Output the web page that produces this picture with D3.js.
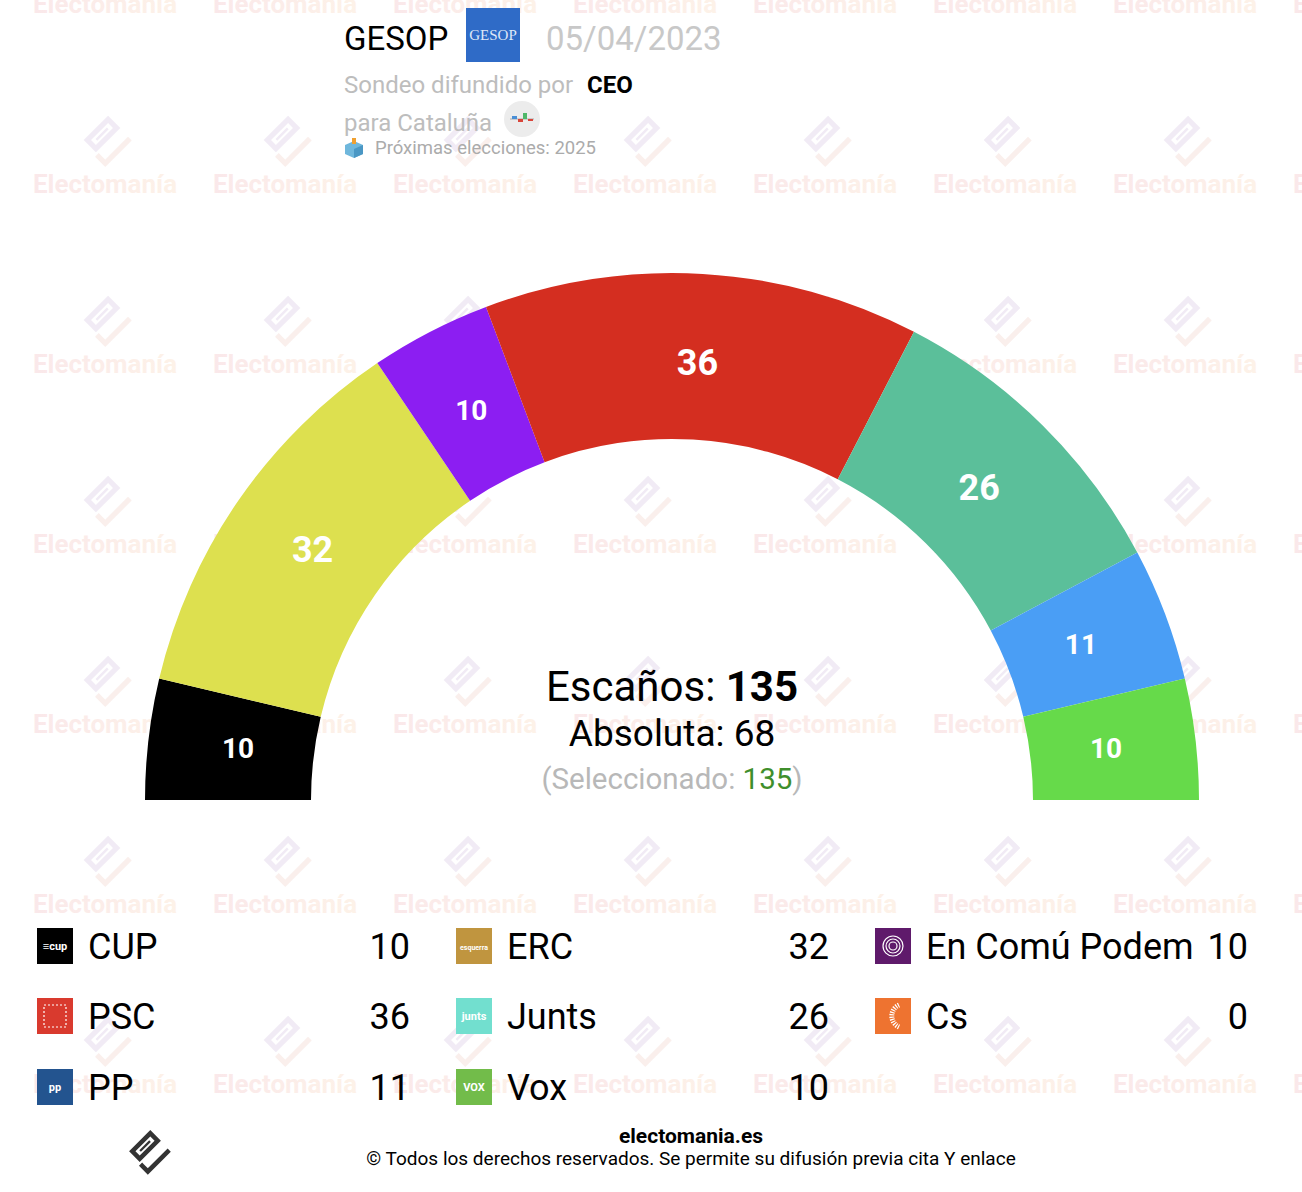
<!DOCTYPE html>
<meta charset="utf-8">
<style>
body { margin: 0; background: #fff; font-family: Roboto, "Noto Sans", sans-serif; }
</style>
<body>
<svg id="chart"></svg>
<script src="https://cdn.jsdelivr.net/npm/d3@7"></script>
<script>

// seats in hemicycle order (left to right)
var parties = ["CUP", "ERC", "En Comú Podem", "PSC", "Junts", "PP", "Vox"];
var seats = [10, 32, 10, 36, 26, 11, 10];
var arcColors = ["#000000", "#dde04f", "#8c1ef2", "#d42e20", "#5bbf9a", "#4a9ef5", "#66da4a"];

// legend, row by row in three columns
var legendParties = ["CUP", "ERC", "En Comú Podem", "PSC", "Junts", "Cs", "PP", "Vox"];
var legendSeats = [10, 32, 10, 36, 26, 0, 11, 10];
var legendIconColors = ["#000000", "#c0953f", "#5f1a6b", "#d93a2e", "#72dfcf", "#ee7330", "#23548f", "#72bc4a"];
var legendIconText = ["≡cup", "esquerra", "", "", "junts", "", "pp", "VOX"];

var totalSeats = 135, majority = 68, selected = 135;

var W = 1302, H = 1192;
var svg = d3.select("#chart").attr("width", W).attr("height", H);

// the electomania mark: tilted frame with a slot, and a tick underneath
function drawLogo(g, frameColor, tickColor) {
  var m = g.append("g").attr("transform", "rotate(-45)");
  m.append("rect").attr("x", -12.75).attr("y", -5.25).attr("width", 25.5).attr("height", 10.5)
    .attr("fill", "none").attr("stroke", frameColor).attr("stroke-width", 4.5);
  m.append("rect").attr("x", -7).attr("y", -1).attr("width", 14).attr("height", 2.2).attr("fill", frameColor);
  m.append("path").attr("d", "M-16,12 L-16,20 L12,20").attr("fill", "none")
    .attr("stroke", tickColor).attr("stroke-width", 4.5).attr("stroke-linecap", "square");
}

// faint watermark grid
var defs = svg.append("defs");
var grad = defs.append("linearGradient").attr("id", "wmgrad");
grad.append("stop").attr("offset", "0%").attr("stop-color", "#fae8ea");
grad.append("stop").attr("offset", "100%").attr("stop-color", "#fdf2e8");

var wm = svg.append("g").attr("id", "watermark");
var wmCols = d3.range(0, 8).map(i => 105 + i * 180);
var wmRows = d3.range(0, 7).map(i => 4 + i * 180);
wmRows.forEach(function(y) {
  wmCols.forEach(function(x) {
    var g = wm.append("g").attr("transform", "translate(" + x + "," + y + ")");
    drawLogo(g.append("g").attr("transform", "translate(-3,-50) scale(1.15)"), "#f1ebf5", "#faefec");
    g.append("text").attr("text-anchor", "middle").attr("y", 9)
      .style("font-size", "26px").style("font-weight", "bold")
      .attr("fill", "url(#wmgrad)")
      .text("Electomanía");
  });
});

// hemicycle
var cx = 672, cy = 800, rOuter = 527, rInner = 361, rLabel = 437;
var pie = d3.pie().sort(null).startAngle(-Math.PI / 2).endAngle(Math.PI / 2);
var arc = d3.arc().innerRadius(rInner).outerRadius(rOuter);
var labelArc = d3.arc().innerRadius(rLabel).outerRadius(rLabel);
var arcs = pie(seats);

var hemi = svg.append("g").attr("transform", "translate(" + cx + "," + cy + ")");
hemi.selectAll("path.seat")
  .data(arcs)
  .enter().append("path")
    .attr("class", "seat")
    .attr("d", arc)
    .attr("fill", (d, i) => arcColors[i]);

hemi.selectAll("text.seatlabel")
  .data(arcs)
  .enter().append("text")
    .attr("class", "seatlabel")
    .attr("transform", d => "translate(" + labelArc.centroid(d) + ")")
    .attr("text-anchor", "middle")
    .attr("dy", "0.3em")
    .attr("fill", "#fff")
    .style("font-weight", "bold")
    .style("font-size", d => d.data >= 20 ? "36px" : "28px")
    .text(d => d.data);

// center text
var t1 = svg.append("text").attr("x", cx).attr("y", 701).attr("text-anchor", "middle")
  .style("font-size", "42px").attr("fill", "#000");
t1.append("tspan").text("Escaños: ");
t1.append("tspan").style("font-weight", "bold").text(totalSeats);
svg.append("text").attr("x", cx).attr("y", 746).attr("text-anchor", "middle")
  .style("font-size", "37px").attr("fill", "#000").text("Absoluta: " + majority);
var t3 = svg.append("text").attr("x", cx).attr("y", 789).attr("text-anchor", "middle")
  .style("font-size", "29.5px").attr("fill", "#b8b8b8");
t3.append("tspan").text("(Seleccionado: ");
t3.append("tspan").attr("fill", "#3f8f2c").text(selected);
t3.append("tspan").text(")");

// header
svg.append("text").attr("x", 344).attr("y", 50).style("font-size", "33px").attr("fill", "#000").text("GESOP");
svg.append("rect").attr("x", 466).attr("y", 8).attr("width", 54).attr("height", 54).attr("fill", "#2f6bc7");
svg.append("text").attr("x", 493).attr("y", 40).attr("text-anchor", "middle")
  .style("font-family", "'Liberation Serif', serif").style("font-size", "15px").attr("fill", "#dfe8f8").text("GESOP");
svg.append("text").attr("x", 546).attr("y", 50).style("font-size", "33px").attr("fill", "#c8c8c8").text("05/04/2023");
var sub = svg.append("text").attr("x", 344).attr("y", 93).style("font-size", "24px").attr("fill", "#bdbdbd");
sub.append("tspan").text("Sondeo difundido por ");
sub.append("tspan").attr("dx", 8).attr("fill", "#000").style("font-weight", "bold").text("CEO");
svg.append("text").attr("x", 344).attr("y", 131).style("font-size", "24px").attr("fill", "#bdbdbd").text("para Cataluña");
var flag = svg.append("g").attr("transform", "translate(522,119)");
flag.append("circle").attr("r", 18).attr("fill", "#ececec");
flag.append("line").attr("x1", -12).attr("x2", 12).attr("stroke", "#999").attr("stroke-width", 0.8);
flag.append("rect").attr("x", -10).attr("y", -3).attr("width", 5).attr("height", 3).attr("fill", "#4a8fd6");
flag.append("rect").attr("x", -4).attr("y", 0).attr("width", 5).attr("height", 3).attr("fill", "#d9453a");
flag.append("rect").attr("x", 1).attr("y", -6).attr("width", 4).attr("height", 6).attr("fill", "#4fb86a");
flag.append("rect").attr("x", 6).attr("y", 0).attr("width", 5).attr("height", 2).attr("fill", "#d9453a");
var box = svg.append("g").attr("transform", "translate(354,149)");
box.append("path").attr("d", "M-9,-4 L0,-8 L9,-4 L9,5 L0,9 L-9,5 Z").attr("fill", "#6fb7dc");
box.append("path").attr("d", "M0,0 L9,-4 L9,5 L0,9 Z").attr("fill", "#4a97c4");
box.append("rect").attr("x", -2).attr("y", -11).attr("width", 4).attr("height", 6).attr("fill", "#f0a030");
svg.append("text").attr("x", 375).attr("y", 154).style("font-size", "18.5px").attr("fill", "#ababab").text("Próximas elecciones: 2025");

// legend
var colX = [37, 456, 875], colValX = [410, 829, 1248], rowY = [928, 998, 1069];
var leg = svg.append("g").attr("id", "legend");
var items = leg.selectAll("g.item")
  .data(legendParties.map((p, i) => ({name: p, seats: legendSeats[i], color: legendIconColors[i], icon: legendIconText[i], i: i})))
  .enter().append("g")
    .attr("class", "item")
    .attr("transform", d => "translate(" + colX[d.i % 3] + "," + rowY[Math.floor(d.i / 3)] + ")");
items.append("rect").attr("width", 36).attr("height", 36).attr("fill", d => d.color);
items.append("text").attr("x", 18).attr("y", 22).attr("text-anchor", "middle")
  .attr("fill", "#fff").style("font-weight", "bold")
  .style("font-size", d => d.icon.length > 5 ? "7px" : "11px")
  .text(d => d.icon);
items.filter(d => d.name === "En Comú Podem").selectAll("circle.ring")
  .data([4, 7, 10]).enter().append("circle")
  .attr("cx", 18).attr("cy", 18).attr("r", r => r)
  .attr("fill", "none").attr("stroke", "#fff").attr("stroke-width", 1.2);
items.filter(d => d.name === "Cs").append("path")
  .attr("d", "M24,7 A12,12 0 0,0 24,29").attr("fill", "none").attr("stroke", "#fff")
  .attr("stroke-width", 5).attr("stroke-dasharray", "1.2,1.2");
items.filter(d => d.name === "PSC").append("rect")
  .attr("x", 7).attr("y", 7).attr("width", 22).attr("height", 22).attr("fill", "none")
  .attr("stroke", "#fff").attr("stroke-width", 1.2).attr("stroke-dasharray", "2,2");
items.append("text").attr("x", 51).attr("y", 31)
  .style("font-size", "36px").attr("fill", "#000").text(d => d.name);
items.append("text").attr("x", (d) => colValX[d.i % 3] - colX[d.i % 3]).attr("y", 31)
  .attr("text-anchor", "end").style("font-size", "36px").attr("fill", "#000").text(d => d.seats);

// footer
svg.append("text").attr("x", 691).attr("y", 1143).attr("text-anchor", "middle")
  .style("font-size", "21px").style("font-weight", "bold").attr("fill", "#000").text("electomania.es");
svg.append("text").attr("x", 691).attr("y", 1165).attr("text-anchor", "middle")
  .style("font-size", "19px").attr("fill", "#000")
  .text("© Todos los derechos reservados. Se permite su difusión previa cita Y enlace");
drawLogo(svg.append("g").attr("transform", "translate(145,1146)"), "#333", "#333");

</script>
